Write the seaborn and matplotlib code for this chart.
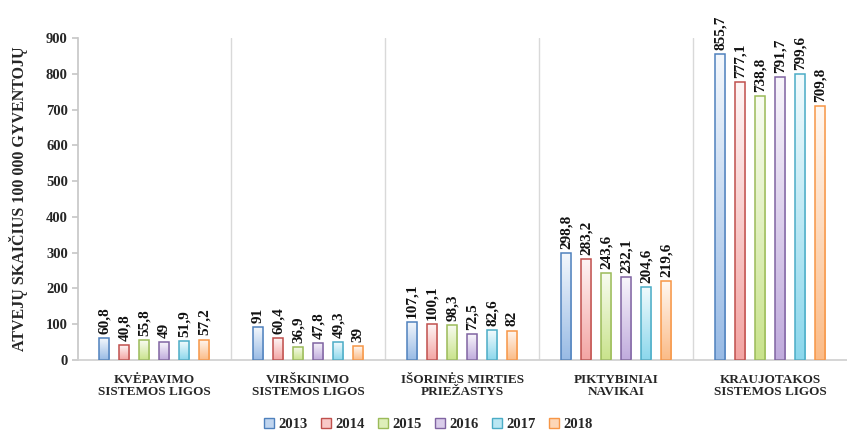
import numpy as np
import pandas as pd
import matplotlib
matplotlib.use("Agg")
import matplotlib.pyplot as plt
import matplotlib.colors as mcolors
from matplotlib.patches import Patch
import seaborn as sns

categories = [
    "KVĖPAVIMO\nSISTEMOS LIGOS",
    "VIRŠKINIMO\nSISTEMOS LIGOS",
    "IŠORINĖS MIRTIES\nPRIEŽASTYS",
    "PIKTYBINIAI\nNAVIKAI",
    "KRAUJOTAKOS\nSISTEMOS LIGOS",
]
years = ["2013", "2014", "2015", "2016", "2017", "2018"]
v2013 = [60.8, 91, 107.1, 298.8, 855.7]
v2014 = [40.8, 60.4, 100.1, 283.2, 777.1]
v2015 = [55.8, 36.9, 98.3, 243.6, 738.8]
v2016 = [49, 47.8, 72.5, 232.1, 791.7]
v2017 = [51.9, 49.3, 82.6, 204.6, 799.6]
v2018 = [57.2, 39, 82, 219.6, 709.8]
yticks = list(range(0, 901, 100))

series = [v2013, v2014, v2015, v2016, v2017, v2018]
rows = []
for year, vals in zip(years, series):
    for cat, v in zip(categories, vals):
        rows.append({"cat": cat, "year": year, "value": v})
df = pd.DataFrame(rows)

edge_colors = ["#4f81bd", "#c0504d", "#9bbb59", "#8064a2", "#4bacc6", "#f79646"]
base_colors = ["#8db3e2", "#f29b99", "#c3e07f", "#b9a2d9", "#7fd3ea", "#fbb47a"]

sns.set_theme(style="white")
plt.rcParams["font.family"] = ["Liberation Serif", "DejaVu Serif"]
plt.rcParams["font.weight"] = "bold"

fig = plt.figure(figsize=(8.47, 4.32), dpi=100)
ax = fig.add_axes([0.0915, 0.1667, 0.9085, 0.745])

sns.barplot(data=df, x="cat", y="value", hue="year", order=categories,
            hue_order=years, palette=base_colors, width=0.78, gap=0.5,
            dodge=True, legend=False, ax=ax, saturation=1)

def blend(c, w):
    r = np.array(mcolors.to_rgb(c))
    return (1 - w) * r + w * np.ones(3)

# vertical gradient fill (pale top, coloured bottom) clipped to each bar
for i, container in enumerate(ax.containers):
    top = blend(base_colors[i], 0.9)
    bot = blend(base_colors[i], 0.1)
    grad = np.linspace(0, 1, 64)[:, None, None]
    img = top[None, None, :] * (1 - grad) + bot[None, None, :] * grad
    for bar in container:
        x0, y0 = bar.get_x(), bar.get_y()
        w, h = bar.get_width(), bar.get_height()
        bar.set_facecolor("none")
        bar.set_edgecolor(edge_colors[i])
        bar.set_linewidth(1.1)
        bar.set_zorder(3)
        im = ax.imshow(img, extent=[x0, x0 + w, y0, y0 + h], origin="upper",
                       aspect="auto", zorder=2, interpolation="bilinear")
        im.set_clip_path(bar)
    labels = [f"{v:g}".replace(".", ",") for v in series[i]]
    ax.bar_label(container, labels=labels, rotation=90, padding=3,
                 fontsize=11, fontweight="bold", color="#111111")

ax.set_xlim(-0.5, 4.5)
ax.set_ylim(0, 900)
ax.set_yticks(yticks)
ax.set_yticklabels([str(t) for t in yticks], fontsize=10.5, fontweight="bold")
ax.tick_params(axis="y", which="both", left=True, length=4, color="#c8c8c8",
               pad=3)
ax.tick_params(axis="x", length=0, pad=10)
ax.set_xticks(range(len(categories)))
ax.set_xticklabels(categories, fontsize=9.5, fontweight="bold",
                   linespacing=1.05)
for x in [0.5, 1.5, 2.5, 3.5]:
    ax.axvline(x, color="#d9d9d9", lw=1, zorder=1)

for s in ["top", "right"]:
    ax.spines[s].set_visible(False)
ax.spines["left"].set_color("#c8c8c8")
ax.spines["bottom"].set_color("#d0d0d0")
ax.set_xlabel("")
ax.set_ylabel("ATVEJŲ SKAIČIUS 100 000 GYVENTOJŲ", fontsize=11.5,
              fontweight="bold", labelpad=13)
ax.grid(False)

handles = [Patch(facecolor=blend(base_colors[i], 0.45),
                 edgecolor=edge_colors[i], lw=1) for i in range(len(years))]
fig.legend(handles, years, loc="lower center", ncol=6, frameon=False,
           bbox_to_anchor=(0.506, -0.028), handlelength=0.7,
           handleheight=0.7, handletextpad=0.3, columnspacing=0.9,
           prop={"weight": "bold", "size": 10.5})

fig.savefig("out.png", dpi=100, facecolor="white")
